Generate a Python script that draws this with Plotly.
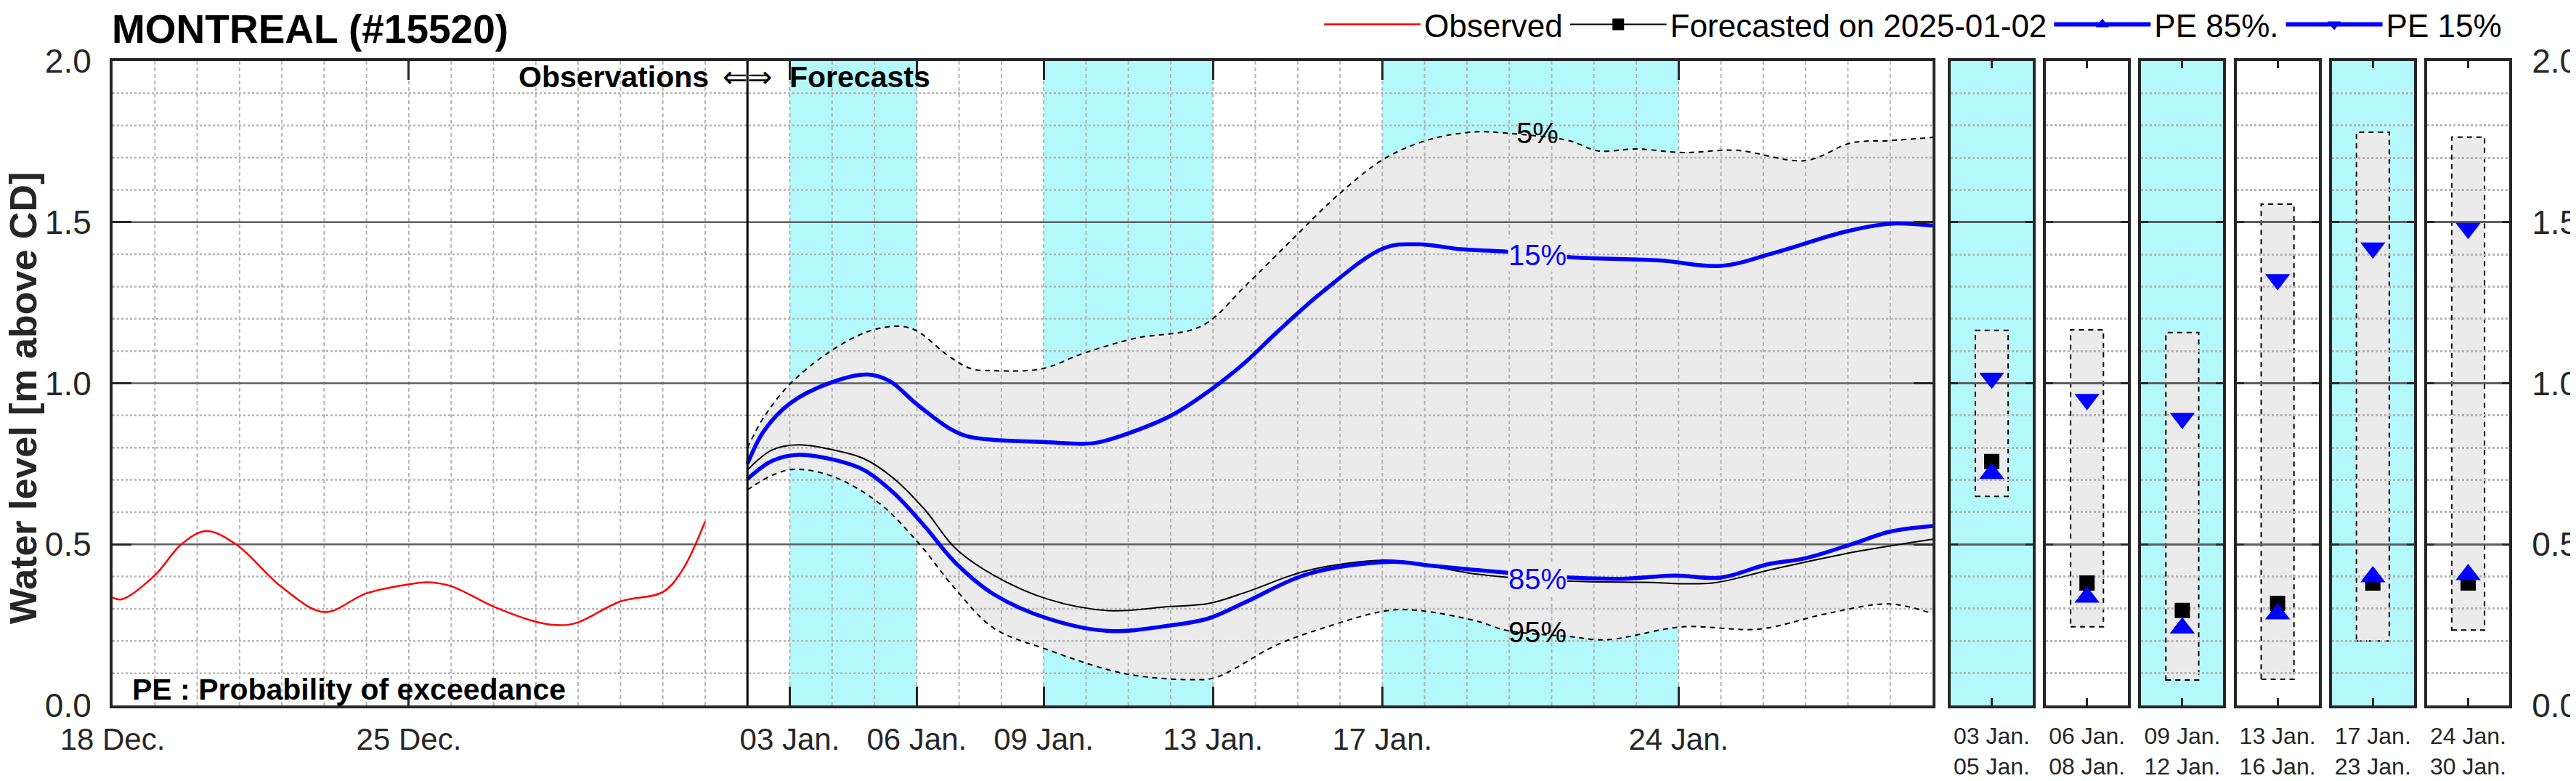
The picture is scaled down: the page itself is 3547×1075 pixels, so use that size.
import pandas as pd
import plotly.graph_objects as go

W, H = 3547, 1075
BODY = 8  # page margin around the plot div
FW, FH = W - 2 * BODY, H - 2 * BODY
FONT = "Liberation Sans, Arial, sans-serif"
INK = "#262626"
CYAN = "#B3F8FB"
BAND = "#EBEBEB"
GRID = "#B4B4B4"
MAJOR = "#5F5F5F"
BLUE = "#0000FF"

# observed water level (m above CD)
OBS_T = ["2024-12-18 00:00", "2024-12-18 05:00", "2024-12-19 00:00", "2024-12-19 15:00",
         "2024-12-20 05:00", "2024-12-20 22:00", "2024-12-22 00:00", "2024-12-23 00:00",
         "2024-12-24 00:00", "2024-12-25 00:00", "2024-12-25 11:00", "2024-12-26 00:00",
         "2024-12-27 00:00", "2024-12-28 00:00", "2024-12-28 14:00", "2024-12-29 00:00",
         "2024-12-30 00:00", "2024-12-31 00:00", "2024-12-31 11:00", "2025-01-01 00:00"]
OBS_V = [0.335, 0.329, 0.404, 0.50, 0.541, 0.50, 0.367, 0.29, 0.348, 0.376, 0.382, 0.37,
         0.307, 0.26, 0.249, 0.258, 0.323, 0.352, 0.419, 0.571]

# forecast issued 2025-01-02, times as days after issue
FC_ISSUE = "2025-01-02 00:00"
FC_MED_DAY = [0, 0.58, 1.21, 2.03, 2.75, 3.47, 4.2, 4.92, 5.82, 7.09, 8.54, 9.98, 10.89, 11.79,
              13.24, 15.05, 15.77, 17.2, 19.0, 21.2, 22.8, 24.1, 26.1, 28.0]
FC_MED = [0.731, 0.793, 0.809, 0.793, 0.766, 0.703, 0.606, 0.487, 0.404, 0.33, 0.294, 0.307,
          0.316, 0.352, 0.419, 0.451, 0.442, 0.408, 0.388, 0.382, 0.38, 0.419, 0.475, 0.516]
FC_P85_DAY = [0, 0.58, 1.21, 2.03, 2.75, 3.47, 4.2, 4.92, 5.82, 7.09, 8.54, 9.98, 10.89, 11.79,
              13.24, 15.23, 16.13, 17.85, 19.57, 20.65, 21.92, 23.0, 24.1, 25.0, 26.1, 26.98, 28.0]
FC_P85 = [0.703, 0.759, 0.778, 0.763, 0.731, 0.658, 0.554, 0.442, 0.345, 0.27, 0.231, 0.248,
          0.27, 0.322, 0.408, 0.446, 0.434, 0.413, 0.396, 0.393, 0.403, 0.397, 0.438, 0.457,
          0.501, 0.539, 0.557]
FC_P15_DAY = [0, 0.39, 1.0, 1.97, 2.84, 3.37, 3.98, 4.77, 5.2, 5.82, 6.96, 7.92, 8.27, 8.97,
              10.0, 11.0, 11.77, 12.5, 13.6, 15.05, 15.86, 16.85, 17.85, 19.57, 21.56, 23.0,
              24.27, 25.9, 26.98, 28.0]
FC_P15 = [0.75, 0.852, 0.937, 1.002, 1.027, 1.006, 0.937, 0.86, 0.835, 0.824, 0.818, 0.812,
          0.816, 0.843, 0.899, 0.985, 1.066, 1.157, 1.285, 1.42, 1.431, 1.416, 1.409, 1.39,
          1.381, 1.364, 1.405, 1.469, 1.495, 1.489]
FC_P05_DAY = [0, 0.39, 1.0, 1.97, 2.84, 3.54, 3.98, 4.77, 5.29, 5.82, 6.96, 7.92, 9.14, 10.72,
              11.8, 12.9, 13.96, 15.05, 16.13, 17.2, 17.94, 19.4, 20.1, 21.0, 22.1, 23.36, 25.0,
              26.08, 26.98, 28.0]
FC_P05 = [0.80, 0.895, 0.997, 1.10, 1.16, 1.177, 1.164, 1.083, 1.045, 1.039, 1.045, 1.092,
          1.139, 1.177, 1.307, 1.45, 1.585, 1.697, 1.757, 1.78, 1.776, 1.753, 1.721, 1.727,
          1.716, 1.723, 1.691, 1.746, 1.753, 1.763]
FC_P95_DAY = [0, 0.58, 1.12, 2.03, 3.11, 4.01, 4.92, 5.82, 7.09, 8.9, 10.52, 11.07, 12.51, 13.6,
              15.05, 15.77, 17.2, 17.94, 19.4, 20.3, 22.1, 23.9, 25.5, 26.98, 28.0]
FC_P95 = [0.669, 0.714, 0.733, 0.71, 0.628, 0.509, 0.36, 0.24, 0.173, 0.099, 0.08, 0.087,
          0.188, 0.24, 0.293, 0.296, 0.263, 0.233, 0.214, 0.204, 0.244, 0.237, 0.285, 0.315,
          0.285]

# curve labels
LABEL_T = "2025-01-20 16:00"
LABEL_TXT = ["5%", "15%", "85%", "95%"]
LABEL_V = [1.776, 1.397, 0.393, 0.228]

# period shading and axis ticks
SHADE_START = ["2025-01-03", "2025-01-09", "2025-01-17"]
SHADE_END = ["2025-01-06", "2025-01-13", "2025-01-24"]
X_RANGE = ["2024-12-18", "2025-01-30"]
X_TICKS = ["2024-12-18", "2024-12-25", "2025-01-03", "2025-01-06", "2025-01-09",
           "2025-01-13", "2025-01-17", "2025-01-24"]
X_TICKTEXT = ["18 Dec.", "25 Dec.", "03 Jan.", "06 Jan.", "09 Jan.", "13 Jan.", "17 Jan.", "24 Jan."]

# period summaries (right panels)
PANEL_LABELS = ["03 Jan.<br>05 Jan.", "06 Jan.<br>08 Jan.", "09 Jan.<br>12 Jan.",
                "13 Jan.<br>16 Jan.", "17 Jan.<br>23 Jan.", "24 Jan.<br>30 Jan."]
PANEL_SHADED = [True, False, True, False, True, False]
PANEL_LOW = [0.649, 0.244, 0.079, 0.081, 0.20, 0.234]
PANEL_HIGH = [1.164, 1.166, 1.157, 1.556, 1.779, 1.764]
PANEL_FC = [0.757, 0.38, 0.295, 0.317, 0.38, 0.38]
PANEL_P85 = [0.72, 0.336, 0.24, 0.284, 0.399, 0.406]
PANEL_P15 = [1.016, 0.95, 0.891, 1.322, 1.42, 1.481]


def fc_times(days):
    return pd.Timestamp(FC_ISSUE) + pd.to_timedelta(days, unit="D")


def px(x):  # page pixel -> paper fraction
    return (x - BODY) / FW


def py(y):
    return 1 - (y - BODY) / FH


Y_DOM = [py(971), py(84)]
fig = go.Figure()

# uncertainty band 5%-95%
fig.add_trace(go.Scatter(x=fc_times(FC_P95_DAY), y=FC_P95, mode="lines",
                         line=dict(width=0, shape="spline"), showlegend=False, hoverinfo="skip"))
fig.add_trace(go.Scatter(x=fc_times(FC_P05_DAY), y=FC_P05, mode="lines", fill="tonexty",
                         fillcolor=BAND, line=dict(width=0, shape="spline"),
                         showlegend=False, hoverinfo="skip"))

# grid drawn over the band (the original has the grid on top of the patch)
days = pd.date_range(X_RANGE[0], X_RANGE[1], freq="D")[1:-1]
gx, gy = [], []
for d in days:
    gx += [d, d, None]
    gy += [0, 2, None]
fig.add_trace(go.Scatter(x=gx, y=gy, mode="lines", showlegend=False, hoverinfo="skip",
                         line=dict(color=GRID, width=2, dash="5px,4px")))
minor_y = [round(k * 0.1, 1) for k in range(1, 20) if k % 5]
hx, hy = [], []
for v in minor_y:
    hx += [X_RANGE[0], X_RANGE[1], None]
    hy += [v, v, None]
fig.add_trace(go.Scatter(x=hx, y=hy, mode="lines", showlegend=False, hoverinfo="skip",
                         line=dict(color=GRID, width=2.5, dash="3px,3px")))
mx, my = [], []
for v in [0.5, 1.0, 1.5]:
    mx += [X_RANGE[0], X_RANGE[1], None]
    my += [v, v, None]
fig.add_trace(go.Scatter(x=mx, y=my, mode="lines", showlegend=False, hoverinfo="skip",
                         line=dict(color=MAJOR, width=2.5)))

# curves
for dd, vv in [(FC_P05_DAY, FC_P05), (FC_P95_DAY, FC_P95)]:
    fig.add_trace(go.Scatter(x=fc_times(dd), y=vv, mode="lines", showlegend=False,
                             line=dict(color="black", width=2, dash="7px,6px", shape="spline")))
fig.add_trace(go.Scatter(x=fc_times(FC_MED_DAY), y=FC_MED, mode="lines", showlegend=False,
                         line=dict(color="black", width=2, shape="spline")))
for dd, vv in [(FC_P85_DAY, FC_P85), (FC_P15_DAY, FC_P15)]:
    fig.add_trace(go.Scatter(x=fc_times(dd), y=vv, mode="lines", showlegend=False,
                             line=dict(color=BLUE, width=5.5, shape="spline")))
fig.add_trace(go.Scatter(x=OBS_T, y=OBS_V, mode="lines", showlegend=False,
                         line=dict(color="red", width=2.5, shape="spline")))

# legend entries
fig.add_trace(go.Scatter(x=[None], y=[None], mode="lines", name="Observed",
                         line=dict(color="red", width=2.5)))
fig.add_trace(go.Scatter(x=[None], y=[None], mode="lines+markers", name="Forecasted on 2025-01-02",
                         line=dict(color="black", width=2),
                         marker=dict(symbol="square", size=16, color="black")))
fig.add_trace(go.Scatter(x=[None], y=[None], mode="lines+markers", name="PE 85%.",
                         line=dict(color=BLUE, width=6),
                         marker=dict(symbol="triangle-up", size=16, color=BLUE)))
fig.add_trace(go.Scatter(x=[None], y=[None], mode="lines+markers", name="PE 15%",
                         line=dict(color=BLUE, width=6),
                         marker=dict(symbol="triangle-down", size=16, color=BLUE)))

for s, e in zip(SHADE_START, SHADE_END):
    fig.add_shape(type="rect", xref="x", yref="y domain", x0=s, x1=e, y0=0, y1=1,
                  fillcolor=CYAN, line_width=0, layer="below")
fig.add_shape(type="line", xref="x", yref="y domain", x0=FC_ISSUE, x1=FC_ISSUE, y0=0, y1=1,
              line=dict(color="black", width=3), layer="above")

for txt, v in zip(LABEL_TXT, LABEL_V):
    col = BLUE if txt in ("15%", "85%") else "black"
    bg = BAND if txt in ("15%", "85%") else "rgba(0,0,0,0)"
    fig.add_annotation(x=LABEL_T, y=v, xref="x", yref="y", text=txt, showarrow=False,
                       xanchor="center", yanchor="middle",
                       font=dict(size=40, color=col), bgcolor=bg, borderpad=0)

axis_common = dict(showline=True, linecolor=INK, linewidth=4, mirror="ticks", ticks="inside",
                   tickcolor=INK, tickwidth=3, zeroline=False, automargin=False)

layout = dict(
    width=FW, height=FH, margin=dict(l=0, r=0, t=0, b=0, autoexpand=False),
    paper_bgcolor="white", plot_bgcolor="rgba(0,0,0,0)",
    font=dict(family=FONT, color=INK),
    xaxis=dict(domain=[px(155), px(2661)], range=X_RANGE, type="date", anchor="y",
               tickvals=X_TICKS, ticktext=X_TICKTEXT, ticklen=26, showgrid=False,
               tickfont=dict(size=42), ticklabelstandoff=7, **axis_common),
    yaxis=dict(domain=Y_DOM, range=[0, 2], anchor="x", dtick=0.5, tickformat=".1f",
               ticklen=26, showgrid=False, tickfont=dict(size=46), ticklabelstandoff=16,
               **axis_common),
    legend=dict(orientation="h", x=px(3450), xanchor="right", y=py(34), yanchor="middle",
                font=dict(size=44, color="black"), itemwidth=133, bgcolor="rgba(0,0,0,0)",
                itemsizing="trace", traceorder="normal"),
    showlegend=True,
)

for i in range(6):
    n = i + 2
    x0 = 2686 + i * 131.2
    layout[f"xaxis{n}"] = dict(domain=[px(x0), px(x0 + 113)], range=[0, 1], anchor=f"y{n}",
                               tickvals=[0.5], ticktext=[PANEL_LABELS[i]], ticklen=10,
                               showgrid=False, tickfont=dict(size=32), ticklabelstandoff=11,
                               **axis_common)
    layout[f"yaxis{n}"] = dict(domain=Y_DOM, range=[0, 2], anchor=f"x{n}", dtick=0.5,
                               tickformat=".1f", ticklen=10, showticklabels=(i == 5),
                               side="right" if i == 5 else "left", tickfont=dict(size=46),
                               ticklabelstandoff=18,
                               showgrid=True, gridcolor=MAJOR, gridwidth=2.5,
                               minor=dict(dtick=0.1, showgrid=True, gridcolor=GRID,
                                          gridwidth=2.5, griddash="3px,3px"),
                               **axis_common)
    if PANEL_SHADED[i]:
        fig.add_shape(type="rect", xref=f"x{n} domain", yref=f"y{n} domain", x0=0, x1=1,
                      y0=0, y1=1, fillcolor=CYAN, line_width=0, layer="below")
    fig.add_shape(type="rect", xref=f"x{n}", yref=f"y{n}", x0=0.3, x1=0.7,
                  y0=PANEL_LOW[i], y1=PANEL_HIGH[i], fillcolor=BAND,
                  line=dict(color="black", width=2, dash="7px,6px"), layer="below")
    fig.add_trace(go.Scatter(x=[0.5, 0.5, 0.5], y=[PANEL_FC[i], PANEL_P85[i], PANEL_P15[i]],
                             xaxis=f"x{n}", yaxis=f"y{n}", mode="markers", showlegend=False,
                             marker=dict(symbol=["square", "triangle-up", "triangle-down"],
                                         size=[21, 30, 30], color=["black", BLUE, BLUE],
                                         opacity=1, line=dict(width=0))))

fig.update_layout(**layout)

# texts
fig.add_annotation(xref="paper", yref="paper", x=px(152), y=py(40), xanchor="left",
                   yanchor="middle", showarrow=False, text="<b>MONTREAL (#15520)</b>",
                   font=dict(size=55, color="black"))
fig.add_annotation(xref="paper", yref="paper", x=px(32), y=py(548), textangle=-90,
                   xanchor="center", yanchor="middle", showarrow=False,
                   text="<b>Water level [m above CD]</b>", font=dict(size=52, color=INK))
fig.add_annotation(xref="paper", yref="paper", x=px(978), y=py(106), xanchor="right",
                   yanchor="middle", showarrow=False, text="<b>Observations</b>",
                   font=dict(size=41, color="black"))
fig.add_annotation(xref="paper", yref="paper", x=px(1029), y=py(106), xanchor="center",
                   yanchor="middle", showarrow=False, text="⇐⇒",
                   font=dict(size=41, color="black"))
fig.add_annotation(xref="paper", yref="paper", x=px(1085), y=py(106), xanchor="left",
                   yanchor="middle", showarrow=False, text="<b>Forecasts</b>",
                   font=dict(size=41, color="black"))
fig.add_annotation(xref="paper", yref="paper", x=px(180), y=py(949), xanchor="left",
                   yanchor="middle", showarrow=False, text="<b>PE : Probability of exceedance</b>",
                   font=dict(size=41, color="black"))

fig.write_html("out.html")
